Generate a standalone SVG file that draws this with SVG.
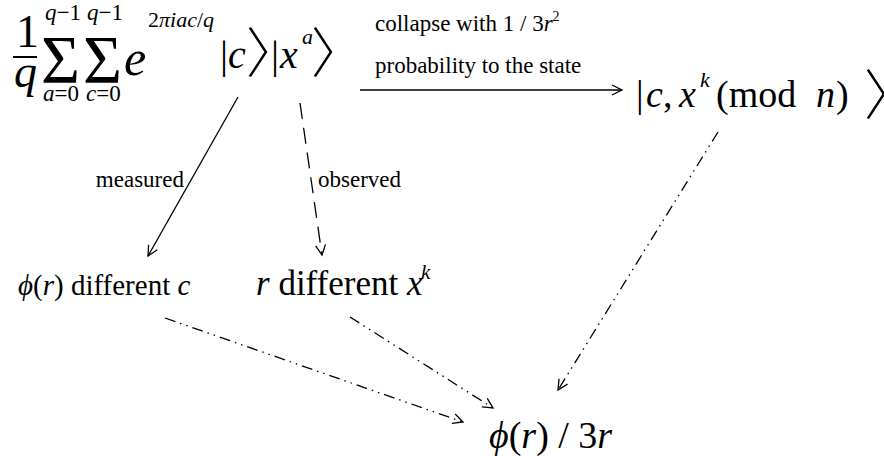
<svg xmlns="http://www.w3.org/2000/svg" width="884" height="456" viewBox="0 0 884 456" font-family="'Liberation Serif', serif">
<style>
text{font-family:'Liberation Serif',serif;fill:#000}
.i{font-style:italic}
.br{font-family:'Noto Sans CJK JP','Noto Sans CJK SC',sans-serif;font-weight:300;font-feature-settings:"halt"}
.ln{stroke:#000;stroke-width:1.3;fill:none}
.dash{stroke-dasharray:16 9}
.dd{stroke-dasharray:11 5 1.5 5 1.5 5}
</style>
<defs>
<marker id="ah" markerUnits="userSpaceOnUse" viewBox="-12 -7 14 14" refX="0" refY="0" markerWidth="14" markerHeight="14" orient="auto"><path d="M-10,-5 L0,0 L-10,5" fill="none" stroke="#000" stroke-width="1.3"/></marker>
</defs>
<rect width="884" height="456" fill="#fff"/>
<g id="n-superposition">
<text x="16" y="47" font-size="46">1</text>
<line x1="13" y1="57" x2="37" y2="57" stroke="#000" stroke-width="2"/>
<text x="14" y="87" font-size="46" class="i">q</text>
<text x="41" y="82" font-size="67">Σ</text>
<text x="83" y="82" font-size="67">Σ</text>
<text x="45" y="20" font-size="23"><tspan class="i">q</tspan>−1</text>
<text x="87" y="20" font-size="23"><tspan class="i">q</tspan>−1</text>
<text x="43" y="101" font-size="23"><tspan class="i">a</tspan>=0</text>
<text x="86" y="101" font-size="23"><tspan class="i">c</tspan>=0</text>
<text x="124" y="75" font-size="50" class="i">e</text>
<text x="148" y="27" font-size="22">2<tspan class="i">πiac</tspan>/<tspan class="i">q</tspan></text>
<text x="220" y="68" font-size="40">|</text>
<text x="228" y="68" font-size="40" class="i">c</text>
<text x="246" y="73" font-size="54" class="br">〉</text>
<text x="271" y="68" font-size="40">|</text>
<text x="280" y="68" font-size="40" class="i">x</text>
<text x="302" y="44" font-size="22" class="i">a</text>
<text x="311" y="73" font-size="54" class="br">〉</text>
</g>
<g id="n-collapsed">
<text x="636" y="107" font-size="38">|</text>
<text x="646" y="107" font-size="38" class="i">c</text>
<text x="663" y="107" font-size="38">,</text>
<text x="679" y="107" font-size="38" class="i">x</text>
<text x="700" y="87" font-size="22" class="i">k</text>
<text x="716" y="107" font-size="38">(mod</text>
<text x="816" y="107" font-size="38" class="i">n</text>
<text x="836" y="107" font-size="38">)</text>
<text x="864" y="115" font-size="54" class="br">〉</text>
</g>
<g id="n-phi-c">
<text x="18" y="295" font-size="29"><tspan class="i">ϕ</tspan>(<tspan class="i">r</tspan>) different <tspan class="i">c</tspan></text>
</g>
<g id="n-r-xk">
<text x="256" y="295" font-size="35"><tspan class="i">r</tspan> different <tspan class="i">x</tspan></text>
<text x="421" y="279" font-size="21" class="i">k</text>
</g>
<g id="n-result">
<text x="489" y="448" font-size="38"><tspan class="i">ϕ</tspan>(<tspan class="i">r</tspan>) / 3<tspan class="i">r</tspan></text>
</g>
<g id="connectors">
<line class="ln" x1="360" y1="90" x2="622" y2="90" marker-end="url(#ah)"/>
<text x="375" y="31" font-size="23">collapse with 1 / 3<tspan class="i">r</tspan><tspan font-size="14" dy="-10">2</tspan></text>
<text x="375" y="73" font-size="23">probability to the state</text>
<line class="ln" x1="238" y1="97" x2="148" y2="256" marker-end="url(#ah)"/>
<text x="184" y="187" font-size="23" text-anchor="end">measured</text>
<line class="ln dash" x1="300" y1="103" x2="322" y2="255" marker-end="url(#ah)"/>
<text x="318" y="187" font-size="23">observed</text>
<line class="ln dd" x1="165" y1="318" x2="463" y2="422" marker-end="url(#ah)"/>
<line class="ln dd" x1="350" y1="317" x2="493" y2="408" marker-end="url(#ah)"/>
<line class="ln dd" x1="718" y1="132" x2="558" y2="390" marker-end="url(#ah)"/>
</g>
</svg>
